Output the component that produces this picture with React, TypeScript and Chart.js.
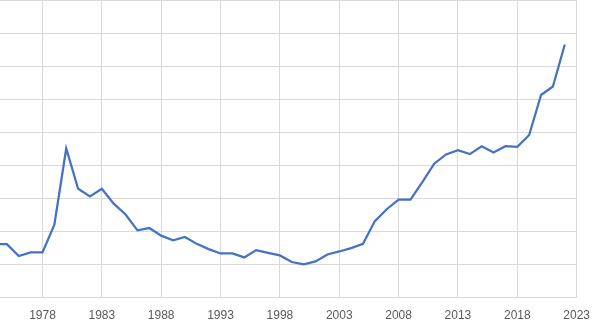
import React, { useEffect, useRef } from "react";
import { Chart, registerables } from "chart.js";

Chart.register(...registerables);

const years: number[] = [
  1974, 1975, 1976, 1977, 1978, 1979, 1980, 1981, 1982, 1983,
  1984, 1985, 1986, 1987, 1988, 1989, 1990, 1991, 1992, 1993,
  1994, 1995, 1996, 1997, 1998, 1999, 2000, 2001, 2002, 2003,
  2004, 2005, 2006, 2007, 2008, 2009, 2010, 2011, 2012, 2013,
  2014, 2015, 2016, 2017, 2018, 2019, 2020, 2021, 2022,
];

const values: number[] = [
  1.6, 1.6, 1.24, 1.35, 1.35, 2.19, 4.5, 3.28, 3.05, 3.28,
  2.83, 2.5, 2.02, 2.09, 1.86, 1.72, 1.82, 1.61, 1.45, 1.32,
  1.32, 1.2, 1.42, 1.34, 1.26, 1.06, 0.99, 1.08, 1.29, 1.38,
  1.48, 1.61, 2.3, 2.66, 2.95, 2.95, 3.48, 4.04, 4.32, 4.45,
  4.33, 4.57, 4.38, 4.57, 4.55, 4.91, 6.12, 6.38, 7.65,
];

const tickYears: number[] = [1978, 1983, 1988, 1993, 1998, 2003, 2008, 2013, 2018, 2023];

export default function App() {
  const ref = useRef<HTMLCanvasElement | null>(null);

  useEffect(() => {
    if (!ref.current) return;
    const chart = new Chart(ref.current, {
      type: "line",
      data: {
        datasets: [
          {
            data: years.map((y, i) => ({ x: y, y: values[i] })),
            borderColor: "#4472C4",
            borderWidth: 2.25,
            pointRadius: 0,
            tension: 0,
            fill: false,
          },
        ],
      },
      options: {
        animation: false,
        responsive: false,
        maintainAspectRatio: false,
        layout: { padding: { left: 0, right: 19, top: 0, bottom: 6.6 } },
        plugins: { legend: { display: false }, tooltip: { enabled: false } },
        scales: {
          x: {
            type: "linear",
            min: 1974.42,
            max: 2023,
            afterBuildTicks: (scale: any) => {
              scale.ticks = tickYears.map((v) => ({ value: v }));
            },
            grid: { color: "#d9d9d9", lineWidth: 1, drawTicks: false },
            border: { display: true, color: "#d9d9d9", width: 1 },
            ticks: {
              autoSkip: false,
              maxRotation: 0,
              padding: 11,
              color: "#595959",
              font: { family: "'Liberation Sans', Arial, sans-serif", size: 12 },
              callback: (v: any) => String(v),
            },
          },
          y: {
            min: 0,
            max: 9,
            grid: { color: "#d9d9d9", lineWidth: 1, drawTicks: false },
            border: { display: false },
            ticks: { display: false, stepSize: 1 },
          },
        },
      },
    });
    return () => chart.destroy();
  }, []);

  return (
    <div style={{ position: "fixed", left: 0, top: 0, width: 598, height: 328, overflow: "hidden", background: "#fff" }}>
      <canvas ref={ref} width={601} height={340} style={{ display: "block", width: 601, height: 340 }} />
    </div>
  );
}
